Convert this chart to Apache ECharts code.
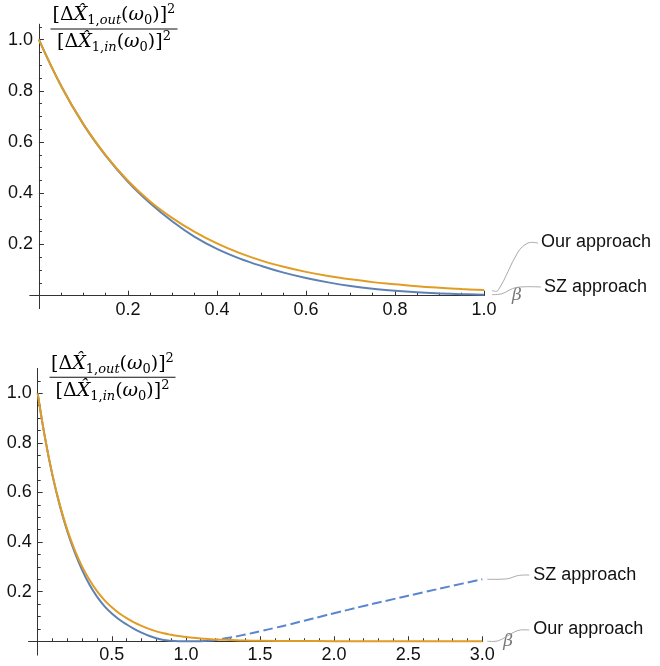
<!DOCTYPE html>
<html><head><meta charset="utf-8">
<script src="https://cdn.jsdelivr.net/npm/echarts@6/dist/echarts.min.js"></script>
<style>html,body{margin:0;padding:0;background:#fff}#c{width:660px;height:666px}</style>
</head><body><div id="c"></div>
<script>
// ---------- data ----------
// top panel: beta in [0, 1]
const betaTop = [0,0.05,0.1,0.15,0.2,0.25,0.3,0.35,0.4,0.45,0.5,0.55,0.6,0.65,0.7,0.75,0.8,0.85,0.9,0.95,1.0];
const szTop   = [1.0,0.819,0.669,0.547,0.445,0.361,0.290,0.230,0.183,0.146,0.116,0.090,0.069,0.052,0.038,0.027,0.019,0.013,0.009,0.006,0.004];
const ourTop  = [1.0,0.819,0.670,0.549,0.449,0.368,0.303,0.249,0.204,0.167,0.137,0.113,0.093,0.077,0.064,0.053,0.045,0.037,0.031,0.026,0.022];

// bottom panel: beta in [0, 3]
const betaBotSz = [0,0.05,0.1,0.15,0.2,0.25,0.3,0.35,0.4,0.45,0.5,0.55,0.6,0.65,0.7,0.75,0.8,0.85,0.9,0.95,1.0,1.05,1.1,1.15];
const szBot     = [1.0,0.818,0.668,0.545,0.443,0.358,0.287,0.228,0.180,0.142,0.112,0.088,0.068,0.050,0.035,0.022,0.012,0.005,0.002,0.0005,0.0001,0,0.0005,0.002];
const betaBotSzDash = [1.15,1.2,1.3,1.4,1.5,1.6,1.7,1.8,1.9,2.0,2.2,2.4,2.6,2.8,3.0];
const szBotDash     = [0.002,0.005,0.015,0.027,0.040,0.054,0.068,0.083,0.098,0.113,0.142,0.170,0.197,0.224,0.25];
const betaBotOur = [0,0.05,0.1,0.15,0.2,0.25,0.3,0.35,0.4,0.45,0.5,0.55,0.6,0.65,0.7,0.75,0.8,0.85,0.9,0.95,1.0,1.05,1.1,1.15,1.2,1.3,1.4,1.5,1.75,2.0,2.5,3.0];
const ourBot     = [1.0,0.819,0.670,0.549,0.449,0.368,0.301,0.247,0.202,0.166,0.137,0.113,0.093,0.076,0.062,0.050,0.040,0.032,0.026,0.021,0.017,0.014,0.011,0.009,0.007,0.005,0.003,0.002,0.001,0.0005,0.0002,0.0001];

// tick values
const topXMajor = [0.2,0.4,0.6,0.8,1.0];
const topXMinor = [0.05,0.1,0.15,0.25,0.3,0.35,0.45,0.5,0.55,0.65,0.7,0.75,0.85,0.9,0.95];
const botXMajor = [0.5,1.0,1.5,2.0,2.5,3.0];
const botXMinor = [0.1,0.2,0.3,0.4,0.6,0.7,0.8,0.9,1.1,1.2,1.3,1.4,1.6,1.7,1.8,1.9,2.1,2.2,2.3,2.4,2.6,2.7,2.8,2.9];
const yMajor = [0.2,0.4,0.6,0.8,1.0];
const yMinor = [0.05,0.1,0.15,0.25,0.3,0.35,0.45,0.5,0.55,0.65,0.7,0.75,0.85,0.9,0.95,1.05];

const labelSZ = 'SZ approach';
const labelOur = 'Our approach';

// ---------- chart ----------
const BLUE = '#5E81B5', BLUE_DASH = '#5A85D0', ORANGE = '#E19C24', AXIS = '#333', TXT = '#111';
const zip = (xs, ys) => xs.map((x, i) => [x, ys[i]]);

// labels of an onZero axis stay at the grid edge in ECharts, so the margin compensates
function xAx(grid, min, max, onIdx, ticks, major, nameGap, margin) {
  const a = {
    type: 'value', gridIndex: grid, min: min, max: max, position: 'bottom',
    axisLine: {show: true, onZero: true, onZeroAxisIndex: onIdx, lineStyle: {color: AXIS, width: 1}},
    axisTick: {show: true, inside: true, length: major ? 5 : 3, customValues: ticks, lineStyle: {color: AXIS, width: 1}},
    axisLabel: major ? {show: true, customValues: ticks, formatter: v => v.toFixed(1), margin: margin,
      fontSize: 18, fontFamily: 'Liberation Sans', color: TXT} : {show: false},
    splitLine: {show: false}, minorTick: {show: false}
  };
  if (major) {
    a.name = 'β'; a.nameLocation = 'end'; a.nameGap = nameGap;
    a.nameTextStyle = {fontFamily: 'DejaVu Serif', fontStyle: 'italic', fontSize: 17, color: '#777', padding: [13, 0, 0, 0]};
  }
  return a;
}
function yAx(grid, min, max, onIdx, ticks, major, margin) {
  return {
    type: 'value', gridIndex: grid, min: min, max: max, position: 'left',
    axisLine: {show: true, onZero: true, onZeroAxisIndex: onIdx, lineStyle: {color: AXIS, width: 1}},
    axisTick: {show: true, inside: true, length: major ? 5 : 3, customValues: ticks, lineStyle: {color: AXIS, width: 1}},
    axisLabel: major ? {show: true, customValues: ticks, formatter: v => v.toFixed(1), margin: margin,
      fontSize: 18, fontFamily: 'Liberation Sans', color: TXT} : {show: false},
    splitLine: {show: false}, minorTick: {show: false}
  };
}
function line(xi, yi, data, color, dashed, z) {
  return {type: 'line', xAxisIndex: xi, yAxisIndex: yi, data: data, showSymbol: false, symbol: 'none',
    smooth: 0.4, silent: true, z: z,
    lineStyle: {color: color, width: 2, type: dashed ? [10, 4] : 'solid'}};
}

const chart = echarts.init(document.getElementById('c'));
chart.setOption({
  animation: false,
  backgroundColor: '#fff',
  grid: [
    {left: 30, top: 24.3, width: 454, height: 284.2, containLabel: false, outerBoundsMode: 'none'},
    {left: 28.8, top: 368.5, width: 453.5, height: 286.4, containLabel: false, outerBoundsMode: 'none'}
  ],
  xAxis: [
    xAx(0, -0.02, 1.0, 0, topXMajor, true, 28, -7.8),
    xAx(0, -0.02, 1.0, 0, topXMinor, false),
    xAx(1, -0.06, 3.0, 2, botXMajor, true, 21, -8.6),
    xAx(1, -0.06, 3.0, 2, botXMinor, false)
  ],
  yAxis: [
    yAx(0, -0.05, 1.06, 0, yMajor, true, -3),
    yAx(0, -0.05, 1.06, 0, yMinor, false),
    yAx(1, -0.055, 1.1, 2, yMajor, true, -3),
    yAx(1, -0.055, 1.1, 2, yMinor, false)
  ],
  series: [
    line(0, 0, zip(betaTop, szTop), BLUE, false, 2),
    line(0, 0, zip(betaTop, ourTop), ORANGE, false, 3),
    line(2, 2, zip(betaBotSz, szBot), BLUE, false, 2),
    line(2, 2, zip(betaBotSzDash, szBotDash), BLUE_DASH, true, 3),
    line(2, 2, zip(betaBotOur, ourBot), ORANGE, false, 4)
  ]
});

// ---------- annotations ----------
const rich = {
  n: {fontFamily: 'DejaVu Serif', fontSize: 19, lineHeight: 24, color: TXT},
  i: {fontFamily: 'DejaVu Serif', fontStyle: 'italic', fontSize: 19, lineHeight: 24, color: TXT},
  s: {fontFamily: 'DejaVu Serif', fontSize: 13, lineHeight: 12, verticalAlign: 'bottom', color: TXT},
  si: {fontFamily: 'DejaVu Serif', fontStyle: 'italic', fontSize: 13, lineHeight: 12, verticalAlign: 'bottom', color: TXT},
  p: {fontFamily: 'DejaVu Serif', fontSize: 13, lineHeight: 15, verticalAlign: 'top', color: TXT}
};
const numText = '{n|[Δ}{i|X\u0302}{s|1,}{si|out}{n|(}{i|ω}{s|0}{n|)]}{p|2}';
const denText = '{n|[Δ}{i|X\u0302}{s|1,}{si|in}{n|(}{i|ω}{s|0}{n|)]}{p|2}';
function fraction(cx, barY, barW) {
  return [
    {type: 'text', z: 10, style: {text: numText, rich: rich, x: cx, y: barY - 1, align: 'center', textAlign: 'center', verticalAlign: 'bottom', textVerticalAlign: 'bottom'}},
    {type: 'rect', z: 10, shape: {x: cx - barW / 2, y: barY, width: barW, height: 1}, style: {fill: TXT}},
    {type: 'text', z: 10, style: {text: denText, rich: rich, x: cx, y: barY + 2, align: 'center', textAlign: 'center', verticalAlign: 'top', textVerticalAlign: 'top'}}
  ];
}
function label(txt, x, y) {
  return {type: 'text', z: 10, style: {text: txt, x: x, y: y, fontSize: 18, fontFamily: 'Liberation Sans', fill: TXT,
    align: 'left', textAlign: 'left', verticalAlign: 'middle', textVerticalAlign: 'middle'}};
}
function callout(pts) {
  return {type: 'polyline', z: 9, shape: {points: pts, smooth: 0.35}, style: {stroke: '#aaa', lineWidth: 1, fill: null}};
}
const last = a => a[a.length - 1];
const pTopOur = chart.convertToPixel({xAxisIndex: 0, yAxisIndex: 0}, [last(betaTop), last(ourTop)]);
const pTopSz  = chart.convertToPixel({xAxisIndex: 0, yAxisIndex: 0}, [last(betaTop), last(szTop)]);
const pBotSz  = chart.convertToPixel({xAxisIndex: 2, yAxisIndex: 2}, [last(betaBotSzDash), last(szBotDash)]);
const pBotOur = chart.convertToPixel({xAxisIndex: 2, yAxisIndex: 2}, [last(betaBotOur), last(ourBot)]);

const g = [].concat(
  fraction(114, 28.5, 127),
  fraction(112.5, 376.7, 126),
  [
    callout([[pTopOur[0] + 8, pTopOur[1] + 0.5], [pTopOur[0] + 14, pTopOur[1] + 0.5], [pTopOur[0] + 34, 252], [pTopOur[0] + 44, 243], [pTopOur[0] + 54, 243]]),
    label(labelOur, pTopOur[0] + 57, 242),
    callout([[pTopSz[0] + 8, pTopSz[1]], [pTopSz[0] + 18, pTopSz[1] - 1], [pTopSz[0] + 32, 287.5], [pTopSz[0] + 57, 287]]),
    label(labelSZ, pTopSz[0] + 60, 287),
    callout([[pBotSz[0] + 5, pBotSz[1]], [pBotSz[0] + 25, pBotSz[1] - 0.5], [pBotSz[0] + 36, 575.5], [pBotSz[0] + 47, 575]]),
    label(labelSZ, pBotSz[0] + 51, 575),
    callout([[pBotOur[0] + 5, pBotOur[1]], [pBotOur[0] + 16, pBotOur[1] - 0.5], [pBotOur[0] + 32, 632], [pBotOur[0] + 38, 630], [pBotOur[0] + 47, 630]]),
    label(labelOur, pBotOur[0] + 51, 629.5)
  ]
);
chart.setOption({graphic: {elements: g}});
</script>
</body></html>
